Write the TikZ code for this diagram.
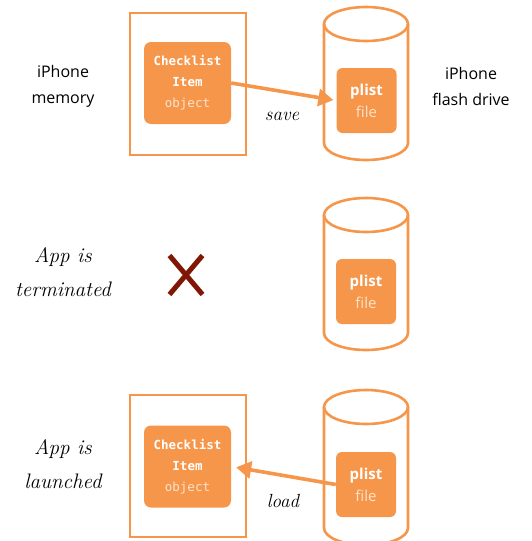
\documentclass[tikz,border=0pt]{standalone}
\usepackage{fontspec}
\setsansfont{Open Sans}
\setmonofont{DejaVu Sans Mono}
\usetikzlibrary{arrows.meta,shapes.misc}
\definecolor{DriveClr}{rgb}{0.96,0.59,0.29}
\definecolor{PaleClr}{rgb}{0.99,0.89,0.80}
\definecolor{KillClr}{rgb}{0.50,0.09,0.02}

\newcommand{\DrawDrum}[2]{%
\draw[drum] (366,#1+17) ellipse [x radius=42,y radius=17];
\draw[drum] (324,#1+17) -- (324,#2-17)
  arc[start angle=180,end angle=0,x radius=42,y radius=17] -- (408,#1+17);}

\begin{document}
\begin{tikzpicture}[x=1pt,y=-1pt,
  drum/.style={draw=DriveClr,line width=2.6pt},
  memframe/.style={draw=DriveClr,line width=2.6pt,minimum width=116pt,minimum height=142pt,inner sep=0pt},
  objbox/.style={fill=DriveClr,rounded corners=7pt,minimum width=87pt,minimum height=82pt,inner sep=0pt,
    align=center,text=white,font=\ttfamily\bfseries\fontsize{12.5}{21}\selectfont},
  filebox/.style={fill=DriveClr,rounded corners=6pt,minimum width=60pt,minimum height=65pt,inner sep=0pt,
    align=center,text=white,font=\sffamily\bfseries\fontsize{15}{22}\selectfont},
  caption/.style={align=center,font=\sffamily\fontsize{16}{26}\selectfont},
  phase/.style={align=center,font=\itshape\fontsize{21}{34}\selectfont},
  verb/.style={font=\itshape\fontsize{19}{20}\selectfont},
  flow/.style={DriveClr,line width=3.6pt,-{Triangle[length=15pt,width=17pt]}}]
\useasboundingbox (0,0) rectangle (531,541);

\DrawDrum{7}{160}
\DrawDrum{198}{350}
\DrawDrum{390}{545}

\node[memframe] (memA) at (188,84) {};
\node[memframe] (memC) at (188,466) {};

\node[objbox] (itemA) at (187.5,83) {Checklist\\Item\\{\mdseries\color{PaleClr}object}};
\node[objbox] (itemC) at (187.5,466.5) {Checklist\\Item\\{\mdseries\color{PaleClr}object}};

\node[filebox] (plistA) at (366.5,100.5) {plist\\{\mdseries\color{PaleClr}file}};
\node[filebox] (plistB) at (366,291.5) {plist\\{\mdseries\color{PaleClr}file}};
\node[filebox] (plistC) at (366,484.5) {plist\\{\mdseries\color{PaleClr}file}};

\node[caption] (memory) at (63,86) {iPhone\\memory};
\node[caption] (flash) at (471,86) {iPhone\\flash drive};
\node[phase] (ended) at (63,272) {App is\\terminated};
\node[phase] (started) at (63,464) {App is\\launched};

\node[cross out,draw=KillClr,line width=5pt,minimum width=28pt,minimum height=34pt] (gone) at (186,275) {};

\draw[flow,shorten >=3pt] (itemA.east) -- (plistA.west);
\draw[flow,shorten >=5pt] (plistC.west) -- (itemC.east);

\node[verb] (save) at (282,116) {save};
\node[verb] (load) at (283,501) {load};
\end{tikzpicture}
\end{document}
